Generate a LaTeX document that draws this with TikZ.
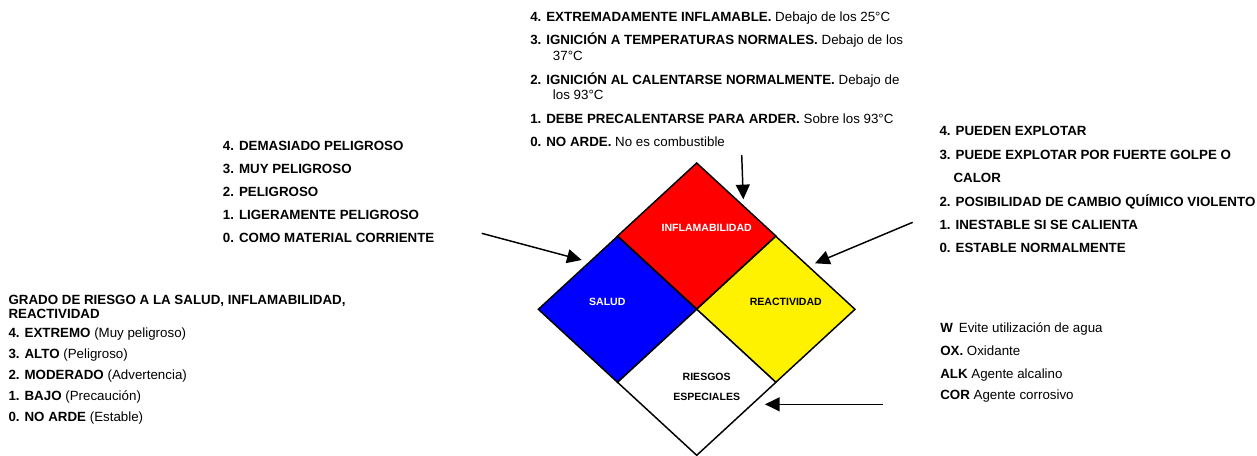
\documentclass[tikz,border=0pt]{standalone}
\usepackage{fontspec}
\setmainfont{Liberation Sans}
\usetikzlibrary{shapes.geometric,arrows.meta,positioning}

\tikzset{
  txt/.style={anchor=base west, inner sep=0pt, font=\fontsize{10}{12}\selectfont},
  rombo/.style={shape=diamond, draw=black, line width=1.1pt, inner sep=0pt, outer sep=0pt,
    minimum width=118.75pt, minimum height=109.5pt},
  etiq/.style={inner sep=0pt, font=\fontsize{7.9}{9}\selectfont\bfseries},
  flecha/.style={line width=1.1pt, -{Triangle[length=11pt,width=10.5pt]}}
}

\begin{document}
\begin{tikzpicture}[x=0.75pt,y=-0.75pt]
   \useasboundingbox (0,0) rectangle (1257,455);

   % rombo NFPA
   \node[rombo, fill=red]    (infl)  at (696.7,236)   {};
   \node[rombo, fill=blue]   (salud) at (617.5,309.3) {};
   \node[rombo, fill=yellow] (react) at (775.8,309.3) {};
   \node[rombo, fill=white]  (esp)   at (696.7,382.3) {};

   \node[etiq, text=white] (tinfl)  at (706.7,228.3) {INFLAMABILIDAD};
   \node[etiq, text=white] (tsalud) at (607.3,302.3) {SALUD};
   \node[etiq]             (treact) at (785.8,302.3) {REACTIVIDAD};
   \node[etiq]             (tesp1)  at (706.7,376.7) {RIESGOS};
   \node[etiq]             (tesp2)  at (706.7,396.7) {ESPECIALES};

   % inflamabilidad
   \node[txt] (f4)  at (530,21.4)    {\textbf{4. EXTREMADAMENTE INFLAMABLE.} Debajo de los 25°C};
   \node[txt] (f3)  at (530,44.9)    {\textbf{3. IGNICIÓN A TEMPERATURAS NORMALES.} Debajo de los};
   \node[txt] (f3b) at (552.7,60.6)  {37°C};
   \node[txt] (f2)  at (530,84.1)    {\textbf{2. IGNICIÓN AL CALENTARSE NORMALMENTE.} Debajo de};
   \node[txt] (f2b) at (552.7,99.8)  {los 93°C};
   \node[txt] (f1)  at (530,123.3)   {\textbf{1. DEBE PRECALENTARSE PARA ARDER.} Sobre los 93°C};
   \node[txt] (f0)  at (530,146.8)   {\textbf{0. NO ARDE.} No es combustible};

   % salud
   \node[txt] (s4) at (222.7,150.5) {\textbf{4. DEMASIADO PELIGROSO}};
   \node[txt] (s3) at (222.7,173.6) {\textbf{3. MUY PELIGROSO}};
   \node[txt] (s2) at (222.7,196.7) {\textbf{2. PELIGROSO}};
   \node[txt] (s1) at (222.7,219.8) {\textbf{1. LIGERAMENTE PELIGROSO}};
   \node[txt] (s0) at (222.7,242.9) {\textbf{0. COMO MATERIAL CORRIENTE}};

   % reactividad
   \node[txt] (r4)  at (939.3,135.8) {\textbf{4. PUEDEN EXPLOTAR}};
   \node[txt] (r3)  at (939.3,159.2) {\textbf{3. PUEDE EXPLOTAR POR FUERTE GOLPE O}};
   \node[txt] (r3b) at (953.3,182.6) {\textbf{CALOR}};
   \node[txt] (r2)  at (939.3,206)   {\textbf{2. POSIBILIDAD DE CAMBIO QUÍMICO VIOLENTO}};
   \node[txt] (r1)  at (939.3,229.4) {\textbf{1. INESTABLE SI SE CALIENTA}};
   \node[txt] (r0)  at (939.3,252.8) {\textbf{0. ESTABLE NORMALMENTE}};

   % grados de riesgo
   \node[txt] (g1) at (8.3,304.8) {\textbf{GRADO DE RIESGO A LA SALUD, INFLAMABILIDAD,}};
   \node[txt] (g2) at (8.3,318)   {\textbf{REACTIVIDAD}};
   \node[txt] (g4) at (8.3,337.5) {\textbf{4. EXTREMO} (Muy peligroso)};
   \node[txt] (g3) at (8.3,358.1) {\textbf{3. ALTO} (Peligroso)};
   \node[txt] (gm) at (8.3,379.8) {\textbf{2. MODERADO} (Advertencia)};
   \node[txt] (gb) at (8.3,400.8) {\textbf{1. BAJO} (Precaución)};
   \node[txt] (g0) at (8.3,421.5) {\textbf{0. NO ARDE} (Estable)};

   % riesgos especiales
   \node[txt] (w)   at (940,332.9) {\textbf{W}\hspace{4.5pt}Evite utilización de agua};
   \node[txt] (ox)  at (940,355.5) {\textbf{OX.} Oxidante};
   \node[txt] (alk) at (940,378)   {\textbf{ALK} Agente alcalino};
   \node[txt] (cor) at (940,399.8) {\textbf{COR} Agente corrosivo};

   % flechas
   \coordinate (cInfl)  at (741.7,155);   \coordinate (pInfl)  at (743.3,199.3);
   \coordinate (cSalud) at (481.7,233.3); \coordinate (pSalud) at (581.7,260);
   \coordinate (cReact) at (912.7,222.3); \coordinate (pReact) at (815,263.3);
   \coordinate (cEsp)   at (882.5,404.3); \coordinate (pEsp)   at (765,404.3);
   \draw[flecha] (cInfl) -- (pInfl);
   \draw[flecha] (cSalud) -- (pSalud);
   \draw[flecha] (cReact) -- (pReact);
   \draw[flecha] (cEsp) -- (pEsp);
\end{tikzpicture}
\end{document}
